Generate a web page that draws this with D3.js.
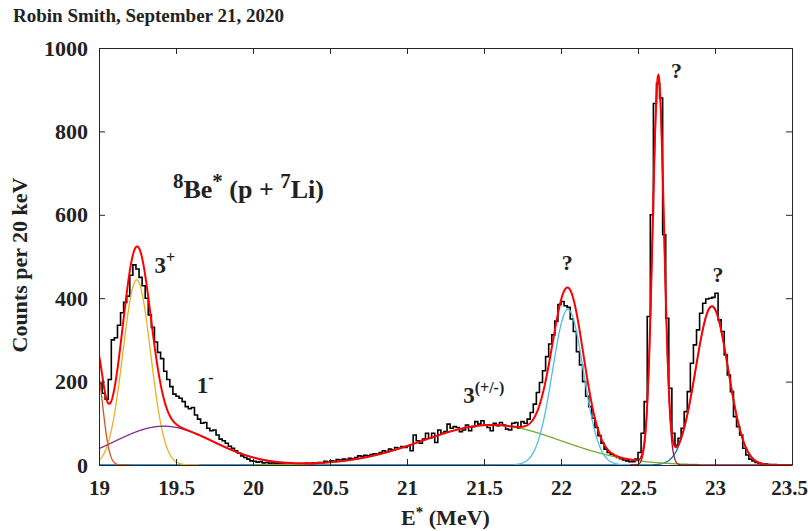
<!DOCTYPE html>
<html><head><meta charset="utf-8">
<script src="https://cdn.jsdelivr.net/npm/d3@7"></script>
<style>
body{margin:0;background:#fff}
svg text{font-family:"Liberation Serif","Times New Roman",serif;font-weight:bold;fill:#222}
</style></head>
<body><svg id="c" width="808" height="531"></svg>
<script>
// ---------- data ----------
const title = "Robin Smith, September 21, 2020";
const xTicks = [19, 19.5, 20, 20.5, 21, 21.5, 22, 22.5, 23, 23.5];
const xTickLabels = ["19","19.5","20","20.5","21","21.5","22","22.5","23","23.5"];
const yTicks = [0, 200, 400, 600, 800, 1000];
const yTickLabels = ["0","200","400","600","800","1000"];
const binStart = 19.0;      // MeV
const binWidth = 0.02;      // MeV (20 keV)
// counts per 20 keV bin (19.00 ... 23.48)
const counts = [
 195,172,158,205,300,305,335,365,390,405,
 455,480,470,450,430,400,360,330,295,270,
 255,225,205,188,170,165,160,152,140,135,
 138,120,110,100,102,88,82,84,72,62,
 58,52,45,40,34,28,22,18,14,10,
 9,7,8,5,6,4,5,3,4,3,
 2,4,2,3,2,3,2,4,3,5,
 4,6,5,9,7,10,9,13,12,14,
 13,16,15,18,22,21,23,22,25,27,
 26,30,34,32,38,36,42,40,44,42,
 46,34,72,58,52,62,76,64,76,54,
 84,76,80,98,88,92,90,80,84,96,
 82,92,104,98,106,96,90,82,100,94,
 102,96,86,84,100,102,88,104,100,110,
 126,146,174,198,226,260,290,312,345,385,
 392,382,378,350,320,272,240,200,165,140,
 112,90,70,52,38,30,26,22,18,15,
 12,10,8,8,14,
 30,76,152,356,600,867,915,880,552,352,
 184,76,48,64,88,128,176,244,288,324,
 364,388,398,400,402,412,348,320,264,216,
 176,116,92,72,40,24,14,10,6,4,
 2,2,1,0,1,0,0,0,0,0
];
// fitted Gaussian components (amplitude, centre, sigma)
const compAmp    = [380,   235,   444,    93,    96,    373,    928];
const compCentre = [22.98, 18.98, 19.245, 19.42, 21.55, 22.045, 22.632];
const compSigma  = [0.105, 0.044, 0.09,   0.32,  0.45,  0.10,   0.037];
const compFrom   = [19,    19,    19,     19,    20,    21.7,   22.45];
const compTo     = [23.5,  19.2,  19.65,  20.4,  22.9,  22.45,  23.5];
const labels = {
  be: ["8","Be","*"," (p + ","7","Li)"],
  threePlus: ["3","+"],
  oneMinus: ["1","-"],
  threePM: ["3","(+/-)"],
  q: ["?","?","?"]
};

// ---------- styles ----------
const compColors = ["#0072BD","#D95319","#EDB120","#7E2F8E","#77AC30","#4DBEEE","#A2142F"];

// ---------- chart ----------
const svg = d3.select("#c");
const M = {l:99, r:792, t:48, b:465};
const x = d3.scaleLinear().domain([19, 23.5]).range([M.l, M.r]);
const y = d3.scaleLinear().domain([0, 1000]).range([M.b, M.t]);

svg.append("defs").append("clipPath").attr("id","clip")
  .append("rect").attr("x",M.l).attr("y",M.t-10).attr("width",M.r-M.l).attr("height",M.b-M.t+10);

const plot = svg.append("g").attr("clip-path","url(#clip)");

// histogram (stairs)
const histPts = counts.map((c,i)=>[binStart + i*binWidth, c]);
histPts.push([binStart + counts.length*binWidth, counts[counts.length-1]]);
plot.append("path").datum(histPts)
  .attr("d", d3.line().x(d=>x(d[0])).y(d=>y(d[1])).curve(d3.curveStepAfter))
  .attr("fill","none").attr("stroke","#000").attr("stroke-width",1.6);

function gauss(k, e){ const d=(e-compCentre[k])/compSigma[k]; return compAmp[k]*Math.exp(-0.5*d*d); }
const step = 0.002;
compAmp.forEach((a,k)=>{
  const pts = d3.range(compFrom[k], compTo[k]+step/2, step).map(e=>[e, gauss(k,e)]);
  plot.append("path").datum(pts)
    .attr("d", d3.line().x(d=>x(d[0])).y(d=>y(d[1])))
    .attr("fill","none").attr("stroke",compColors[k]).attr("stroke-width",1.3);
});
const fitPts = d3.range(19, 23.5+step/2, step).map(e=>[e, d3.sum(compAmp,(a,k)=>gauss(k,e))]);
plot.append("path").datum(fitPts)
  .attr("d", d3.line().x(d=>x(d[0])).y(d=>y(d[1])))
  .attr("fill","none").attr("stroke","#FF0000").attr("stroke-width",2);

// axes
const axisColor = "#262626";
function styleAxis(g, withText, fs){
  g.select(".domain").attr("stroke",axisColor).attr("stroke-width",1);
  g.selectAll(".tick line").attr("stroke",axisColor).attr("stroke-width",1);
  g.selectAll(".tick text").attr("font-family",null).attr("font-size",fs).attr("fill","#222");
  if(!withText) g.selectAll(".tick text").remove();
}
const xb = svg.append("g").attr("transform",`translate(0,${M.b})`)
  .call(d3.axisBottom(x).tickValues(xTicks).tickFormat((d,i)=>xTickLabels[i]).tickSizeInner(-6).tickSizeOuter(0).tickPadding(15));
styleAxis(xb,true,21);
// keep the last label inside the window
xb.selectAll(".tick text").filter((d,i)=>i===xTicks.length-1).attr("dx",-3);
const xt = svg.append("g").attr("transform",`translate(0,${M.t})`)
  .call(d3.axisTop(x).tickValues(xTicks).tickSizeInner(-6).tickSizeOuter(0));
styleAxis(xt,false,21);
const yl = svg.append("g").attr("transform",`translate(${M.l},0)`)
  .call(d3.axisLeft(y).tickValues(yTicks).tickFormat((d,i)=>yTickLabels[i]).tickSizeInner(-6).tickSizeOuter(0).tickPadding(11));
styleAxis(yl,true,22);
const yr = svg.append("g").attr("transform",`translate(${M.r},0)`)
  .call(d3.axisRight(y).tickValues(yTicks).tickSizeInner(-6).tickSizeOuter(0));
styleAxis(yr,false,22);

// titles
svg.append("text").attr("x",13).attr("y",22).attr("font-size",19).text(title);
const xl = svg.append("text").attr("x",(M.l+M.r)/2).attr("y",525).attr("text-anchor","middle").attr("font-size",22);
xl.append("tspan").text("E");
xl.append("tspan").attr("font-size",15).attr("dy",-8).text("*");
xl.append("tspan").attr("dy",8).text(" (MeV)");
svg.append("text").attr("transform",`translate(27,265) rotate(-90)`)
  .attr("text-anchor","middle").attr("font-size",22).text("Counts per 20 keV");

// annotations
function supText(xv, yv, parts, bigSize, supSize, supFirst){
  const t = svg.append("text").attr("x",x(xv)).attr("y",y(yv)).attr("font-size",bigSize);
  let sup = supFirst, cur = 0;
  parts.forEach(p=>{
    const target = sup ? -10 : 0;
    t.append("tspan").attr("dy", target-cur).attr("font-size", sup?supSize:bigSize).text(p);
    cur = target; sup = !sup;
  });
  return t;
}
supText(19.48, 640, labels.be, 26, 21, true);
supText(19.36, 460, labels.threePlus, 23, 16, false);
supText(19.635, 173, labels.oneMinus, 23, 16, false);
supText(21.365, 149, labels.threePM, 23, 16, false);
const qPos = [[22.04, 468],[22.75, 928],[23.02, 439]];
qPos.forEach((p,i)=>{
  svg.append("text").attr("x",x(p[0])).attr("y",y(p[1])).attr("text-anchor","middle").attr("font-size",22).text(labels.q[i]);
});
</script>
</body></html>
